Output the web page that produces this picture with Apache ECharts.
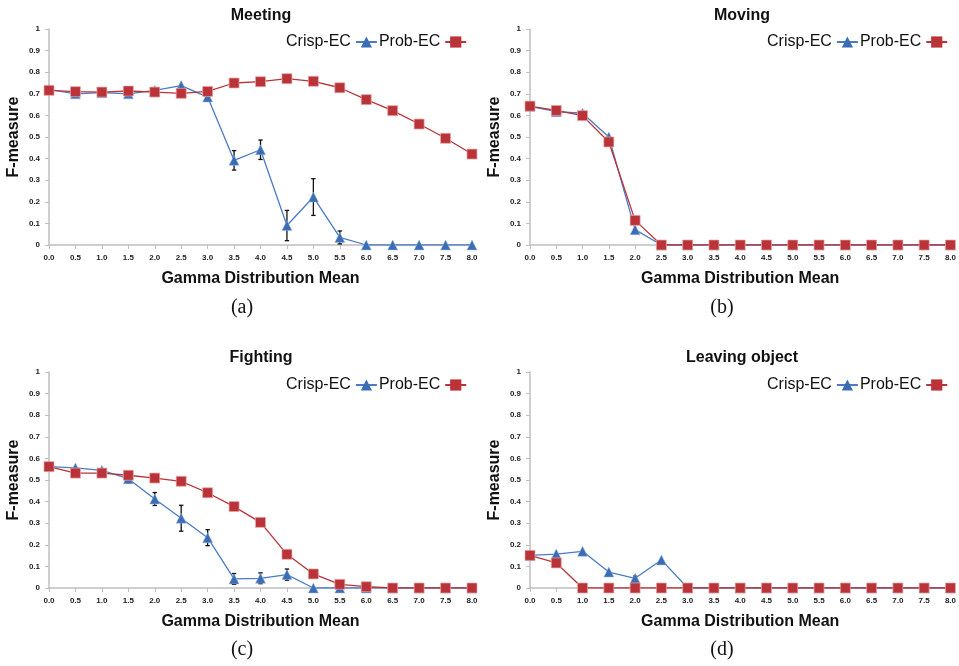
<!DOCTYPE html>
<html>
<head>
<meta charset="utf-8">
<script src="https://cdn.jsdelivr.net/npm/echarts@6/dist/echarts.min.js"></script>
<style>
  html, body { margin: 0; padding: 0; background: #ffffff; }
  #chart { width: 959px; height: 666px; }
</style>
</head>
<body>
<div id="chart"></div>
<script>
// ---------- data ----------
const xLabels = ['0.0','0.5','1.0','1.5','2.0','2.5','3.0','3.5','4.0','4.5','5.0','5.5','6.0','6.5','7.0','7.5','8.0'];
const panelTitles = ['Meeting', 'Moving', 'Fighting', 'Leaving object'];
const panelCaptions = ['(a)', '(b)', '(c)', '(d)'];
const seriesNames = ['Crisp-EC', 'Prob-EC'];

const meetingCrisp    = [0.72, 0.70, 0.705, 0.70, 0.716, 0.738, 0.685, 0.392, 0.441, 0.090, 0.222, 0.035, 0, 0, 0, 0, 0];
const meetingCrispErr = [0, 0, 0, 0, 0, 0, 0.02, 0.045, 0.045, 0.07, 0.085, 0.03, 0, 0, 0, 0, 0];
const meetingProb     = [0.716, 0.71, 0.708, 0.713, 0.708, 0.702, 0.711, 0.75, 0.756, 0.77, 0.758, 0.728, 0.673, 0.622, 0.56, 0.494, 0.421];

const movingCrisp     = [0.642, 0.617, 0.61, 0.50, 0.071, 0, 0, 0, 0, 0, 0, 0, 0, 0, 0, 0, 0];
const movingCrispErr  = [0, 0, 0, 0, 0, 0, 0, 0, 0, 0, 0, 0, 0, 0, 0, 0, 0];
const movingProb      = [0.643, 0.623, 0.599, 0.477, 0.114, 0, 0, 0, 0, 0, 0, 0, 0, 0, 0, 0, 0];

const fightingCrisp    = [0.562, 0.556, 0.545, 0.506, 0.412, 0.323, 0.233, 0.042, 0.045, 0.062, 0, 0, 0, 0, 0, 0, 0];
const fightingCrispErr = [0, 0, 0, 0.02, 0.03, 0.06, 0.037, 0.025, 0.025, 0.026, 0, 0, 0, 0, 0, 0, 0];
const fightingProb     = [0.562, 0.532, 0.532, 0.522, 0.509, 0.494, 0.441, 0.377, 0.304, 0.156, 0.065, 0.017, 0.006, 0, 0, 0, 0];

const leavingCrisp    = [0.151, 0.157, 0.17, 0.074, 0.045, 0.13, 0, 0, 0, 0, 0, 0, 0, 0, 0, 0, 0];
const leavingCrispErr = [0, 0, 0, 0, 0.01, 0, 0, 0, 0, 0, 0, 0, 0, 0, 0, 0, 0];
const leavingProb     = [0.151, 0.116, 0, 0, 0, 0, 0, 0, 0, 0, 0, 0, 0, 0, 0, 0, 0];

const crispSets = [meetingCrisp, movingCrisp, fightingCrisp, leavingCrisp];
const errSets   = [meetingCrispErr, movingCrispErr, fightingCrispErr, leavingCrispErr];
const probSets  = [meetingProb, movingProb, fightingProb, leavingProb];

// ---------- layout / style ----------
const FONT = '"Liberation Sans", Arial, Helvetica, sans-serif';
const grids = [
  { left: 49, top: 29, width: 423, height: 216 },
  { left: 530, top: 29, width: 423, height: 216 },
  { left: 49, top: 372, width: 423, height: 216 },
  { left: 530, top: 372, width: 423, height: 216 }
];
const titlePos   = [[261, 8], [742, 8], [261, 350], [742, 350]];
const legendPos  = [[286, 34], [767, 34], [286, 377], [767, 377]];
const captionPos = [[242, 308], [722, 308], [242, 650], [722, 650]];

const BLUE_LINE = '#4a7bc4';
const BLUE_MARK = '#3b6db5';
const RED = '#b93339';
const AXIS = '#bfbfbf';

const xAxes = [], yAxes = [], series = [], titles = [], legends = [], graphics = [];

grids.forEach((g, i) => {
  xAxes.push({
    type: 'category', gridIndex: i, data: xLabels, boundaryGap: false,
    name: 'Gamma Distribution Mean', nameLocation: 'middle', nameGap: 26,
    nameTextStyle: { fontFamily: FONT, fontSize: 16, fontWeight: 'bold', color: '#111' },
    axisLine: { lineStyle: { color: AXIS, width: 1.5 } },
    axisTick: { show: true, length: 4, alignWithLabel: true, lineStyle: { color: AXIS } },
    axisLabel: { fontFamily: FONT, fontSize: 8, fontWeight: 'bold', color: '#222', margin: 9, interval: 0 },
    splitLine: { show: false }
  });
  yAxes.push({
    type: 'value', gridIndex: i, min: 0, max: 1, interval: 0.1,
    name: 'F-measure', nameLocation: 'middle', nameGap: 27, nameRotate: 90,
    nameTextStyle: { fontFamily: FONT, fontSize: 16, fontWeight: 'bold', color: '#111' },
    axisLine: { show: true, lineStyle: { color: AXIS, width: 1.5 } },
    axisTick: { show: true, length: 4, lineStyle: { color: AXIS } },
    axisLabel: { fontFamily: FONT, fontSize: 8, fontWeight: 'bold', color: '#222', margin: 9 },
    splitLine: { show: false }
  });
  series.push({
    name: 'err' + i, type: 'custom', xAxisIndex: i, yAxisIndex: i, z: 1,
    data: crispSets[i].map((v, k) => [k, v, errSets[i][k]]),
    renderItem: function (params, api) {
      const k = api.value(0), v = api.value(1), e = api.value(2);
      if (!e) return null;
      const top = api.coord([k, v + e]);
      const bot = api.coord([k, Math.max(0, v - e)]);
      const cw = 2.2;
      const st = { stroke: '#111', lineWidth: 1.3 };
      return {
        type: 'group',
        children: [
          { type: 'line', shape: { x1: top[0], y1: top[1], x2: bot[0], y2: bot[1] }, style: st },
          { type: 'line', shape: { x1: top[0] - cw, y1: top[1], x2: top[0] + cw, y2: top[1] }, style: st },
          { type: 'line', shape: { x1: bot[0] - cw, y1: bot[1], x2: bot[0] + cw, y2: bot[1] }, style: st }
        ]
      };
    },
    silent: true, animation: false
  });
  series.push({
    name: seriesNames[0], type: 'line', xAxisIndex: i, yAxisIndex: i,
    data: crispSets[i], symbol: 'triangle', symbolSize: 10, z: 2,
    lineStyle: { color: BLUE_LINE, width: 1.3 },
    itemStyle: { color: BLUE_MARK, borderColor: '#9fb9e0', borderWidth: 0.5 },
    emphasis: { disabled: true }, animation: false
  });
  series.push({
    name: seriesNames[1], type: 'line', xAxisIndex: i, yAxisIndex: i,
    data: probSets[i], symbol: 'rect', symbolSize: 10, z: 4,
    lineStyle: { color: RED, width: 1.3 },
    itemStyle: { color: RED, borderColor: '#e6a8a8', borderWidth: 0.7 },
    emphasis: { disabled: true }, animation: false
  });
  titles.push({
    text: panelTitles[i], left: titlePos[i][0], top: titlePos[i][1], textAlign: 'center', padding: 0,
    textStyle: { fontFamily: FONT, fontSize: 16, fontWeight: 'bold', color: '#111' }
  });
  legends.push({
    data: seriesNames, left: legendPos[i][0], top: legendPos[i][1], orient: 'horizontal',
    align: 'right', padding: 0, itemGap: 1, itemWidth: 21, itemHeight: 14,
    itemStyle: { borderWidth: 0 },
    textStyle: { fontFamily: FONT, fontSize: 16, color: '#111', padding: 0 },
    selectedMode: false
  });
  graphics.push({
    type: 'text', x: captionPos[i][0], y: captionPos[i][1],
    style: { text: panelCaptions[i], font: '20px "Liberation Serif", "DejaVu Serif", serif', fill: '#111',
             textAlign: 'center', textVerticalAlign: 'middle' }
  });
});

const chart = echarts.init(document.getElementById('chart'), null, { renderer: 'canvas' });
chart.setOption({
  backgroundColor: '#ffffff',
  animation: false,
  title: titles,
  legend: legends,
  grid: grids,
  xAxis: xAxes,
  yAxis: yAxes,
  series: series,
  graphic: graphics
});
</script>
</body>
</html>
